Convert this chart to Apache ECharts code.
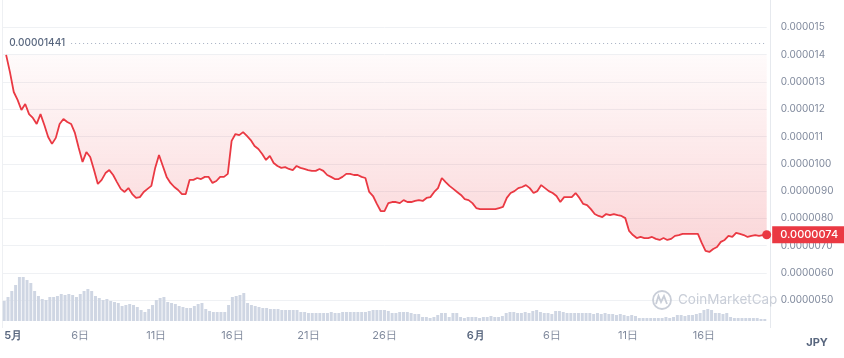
<!DOCTYPE html>
<html>
<head>
<meta charset="utf-8">
<script src="https://cdn.jsdelivr.net/npm/echarts@6/dist/echarts.min.js"></script>
<style>
html,body{margin:0;padding:0;background:#fff;}
#chart{width:844px;height:358px;}
</style>
</head>
<body>
<div id="chart"></div>
<script>
// Price in units of 1e-6 JPY, 6-hour steps from May 1 00:00 to June 20 00:00
const priceMicro = [null,
 13.99,13.36,12.63,12.34,11.97,12.19,11.82,11.68,11.46,11.82,
 11.42,10.98,10.73,10.95,11.46,11.64,11.53,11.46,11.13,10.58,
 10.07,10.43,10.25,9.77,9.26,9.41,9.66,9.77,9.59,9.33,
 9.08,8.97,9.11,8.89,8.75,8.78,8.97,9.08,9.19,9.85,
 10.32,9.92,9.52,9.30,9.15,9.04,8.89,8.89,9.41,9.41,
 9.48,9.44,9.52,9.52,9.30,9.37,9.52,9.52,9.63,10.84,
 11.09,11.05,11.16,11.02,10.87,10.65,10.54,10.36,10.14,10.29,
 10.03,9.92,9.85,9.88,9.81,9.77,9.92,9.85,9.81,9.77,
 9.74,9.74,9.81,9.74,9.59,9.52,9.44,9.44,9.52,9.63,
 9.63,9.59,9.59,9.52,9.48,8.97,8.82,8.53,8.27,8.27,
 8.56,8.60,8.60,8.56,8.67,8.60,8.60,8.64,8.67,8.64,
 8.75,8.78,8.97,9.11,9.48,9.33,9.19,9.08,8.97,8.86,
 8.71,8.67,8.56,8.38,8.34,8.34,8.34,8.34,8.34,8.38,
 8.42,8.75,8.93,9.00,9.11,9.15,9.22,9.11,8.93,9.00,
 9.22,9.11,9.00,8.93,8.82,8.60,8.78,8.78,8.78,8.93,
 8.75,8.53,8.49,8.34,8.16,8.09,8.05,8.16,8.12,8.16,
 8.12,8.09,8.01,7.54,7.39,7.28,7.32,7.28,7.28,7.32,
 7.25,7.21,7.28,7.21,7.25,7.36,7.39,7.43,7.43,7.43,
 7.43,7.43,7.10,6.81,6.77,6.88,6.95,7.14,7.21,7.36,
 7.32,7.47,7.43,7.39,7.32,7.36,7.39,7.36,7.39,7.40
];
// Volume (relative units), same 6-hour steps
const volume = [
 20,24,30,36,44,44,41,38,30,25,22,21,24,24,25,27,26,27,26,24,
 27,30,32,30,25,23,21,22,20,19,18,15,16,17,16,14,11,9,12,16,
 21,23,24,19,18,17,15,14,13,13,15,17,18,12,10,9,9,9,9,16,
 24,25,26,28,18,16,15,14,13,13,12,12,12,11,11,11,11,11,9,9,
 8,8,8,8,8,8,9,8,8,9,9,9,9,9,9,9,10,11,11,11,
 11,10,8,8,9,9,9,8,7,7,4,4,3,4,6,8,8,4,8,8,
 4,3,4,4,4,3,4,4,5,4,4,5,8,9,9,8,8,9,8,10,
 11,9,8,8,7,10,10,9,8,8,8,8,8,8,8,7,8,7,8,7,
 7,6,7,6,5,6,5,3,3,3,3,3,3,3,4,3,4,6,6,5,
 6,6,7,8,11,12,11,8,8,7,8,4,3,3,3,3,3,3,3,2,2
];
const tickDays   = [0, 5, 10, 15, 20, 25, 31, 36, 41, 46];
const tickLabels = ['5月','6日','11日','16日','21日','26日','6月','6日','11日','16日'];
const highValue = 14.41;   // 0.00001441
const lastValue = 7.40;    // 0.0000074
const baseValue = 13.99;   // baseline (open)

const categories = [];
for (let i = 0; i < priceMicro.length; i++) {
  const d = Math.floor(i / 4), h = (i % 4) * 6;
  const m = d < 31 ? 5 : 6, day = d < 31 ? d + 1 : d - 30;
  categories.push(m + '/' + day + ' ' + (h < 10 ? '0' : '') + h + ':00');
}
const lastIdx = priceMicro.length - 1;

const chart = echarts.init(document.getElementById('chart'));
const FONT = 'Inter, "Noto Sans", sans-serif';
const fmtY = v => {
  if (v <= 4 || v >= 16) return '';
  return v >= 10.5 ? (v * 1e-6).toFixed(6) : (v * 1e-6).toFixed(7);
};
const splitColors = [];
for (let v = 4; v <= 16; v++) splitColors.push(v === 4 || v === 16 ? 'rgba(0,0,0,0)' : '#eff1f4');

chart.setOption({
  animation: false,
  grid: [
    {left: 2.3, width: 764.4, top: 0, height: 327.6},
    {left: 2.3, width: 764.4, top: 271, height: 50}
  ],
  xAxis: [
    {type: 'category', gridIndex: 0, data: categories, boundaryGap: false, show: false},
    {type: 'category', gridIndex: 1, data: categories, boundaryGap: true,
     axisLine: {show: false}, axisTick: {show: false},
     axisLabel: {
       interval: (idx) => idx % 4 === 0 && tickDays.indexOf(idx / 4) >= 0,
       formatter: (val, idx) => {
         const k = tickDays.indexOf(idx / 4);
         if (k < 0) return '';
         const t = tickLabels[k];
         return t.indexOf('月') >= 0 ? '{m|' + t + '}' : '{d|' + t + '}';
       },
       margin: 9,
       alignMinLabel: 'left',
       rich: {
         m: {fontFamily: FONT, fontSize: 11, fontWeight: 600, color: '#58667e'},
         d: {fontFamily: FONT, fontSize: 11, color: '#808a9d'}
       }
     }}
  ],
  yAxis: [
    {type: 'value', gridIndex: 0, position: 'right', min: 4, max: 16, interval: 1, offset: 4,
     axisLine: {show: true, lineStyle: {color: '#e6e9ee'}}, axisTick: {show: false},
     splitLine: {show: true, lineStyle: {color: splitColors, width: 1}},
     axisLabel: {formatter: fmtY, margin: 10, fontFamily: FONT, fontSize: 10, color: '#808a9d'}},
    {type: 'value', gridIndex: 1, min: 0, max: 50, show: false},
    {type: 'value', gridIndex: 0, position: 'left', min: 4, max: 16,
     axisLine: {show: true, lineStyle: {color: '#eef0f3'}}, axisTick: {show: false},
     axisLabel: {show: false}, splitLine: {show: false}}
  ],
  series: [
    {
      type: 'bar', xAxisIndex: 1, yAxisIndex: 1, data: volume,
      barCategoryGap: '22%', itemStyle: {color: '#cfd6e3'}, silent: true
    },
    {
      type: 'line', xAxisIndex: 0, yAxisIndex: 0, data: priceMicro,
      showSymbol: false, symbol: 'none', smooth: false, z: 5,
      lineStyle: {color: '#ea3943', width: 1.8},
      areaStyle: {
        origin: baseValue,
        color: new echarts.graphic.LinearGradient(0, 55, 0, 255, [
          {offset: 0, color: 'rgba(234,57,67,0.03)'},
          {offset: 1, color: 'rgba(234,57,67,0.30)'}
        ], true)
      },
      markLine: {
        silent: true, symbol: 'none',
        lineStyle: {type: [1, 3], color: '#a6b0c3', width: 1},
        label: {show: true, position: 'start', distance: 6, formatter: '0.00001441',
                fontFamily: FONT, fontSize: 10, fontWeight: 500, color: '#58667e'},
        data: [[{coord: [18, highValue]}, {coord: [lastIdx, highValue]}]]
      },
      markPoint: {
        silent: true, symbol: 'circle', symbolSize: 9,
        itemStyle: {color: '#ea3943'},
        label: {show: true, position: 'right', distance: 1,
                formatter: '0.0000074', fontFamily: FONT, fontSize: 11, fontWeight: 500,
                color: '#ffffff', backgroundColor: '#ea3943', padding: [3, 12, 3, 8]},
        data: [{coord: [lastIdx, lastValue]}]
      }
    }
  ],
  graphic: [
    {type: 'circle', shape: {cx: 662, cy: 300, r: 9}, style: {fill: 'none', stroke: '#c9ced8', lineWidth: 1.8}, z: 1},
    {type: 'polyline', shape: {points: [[656,304],[658.5,296],[661,302],[664,296],[667,304]]},
     style: {fill: 'none', stroke: '#c9ced8', lineWidth: 1.8}, z: 1},
    {type: 'text', x: 678, y: 300, style: {text: 'CoinMarketCap', fontFamily: FONT, fontSize: 13.5,
      fill: '#c9ced8', verticalAlign: 'middle', align: 'left'}, z: 1},
    {type: 'text', x: 817, y: 343, style: {text: 'JPY', fontFamily: FONT, fontSize: 11, fontWeight: 700,
      fill: '#58667e', verticalAlign: 'middle', align: 'center'}}
  ]
});
</script>
</body>
</html>
